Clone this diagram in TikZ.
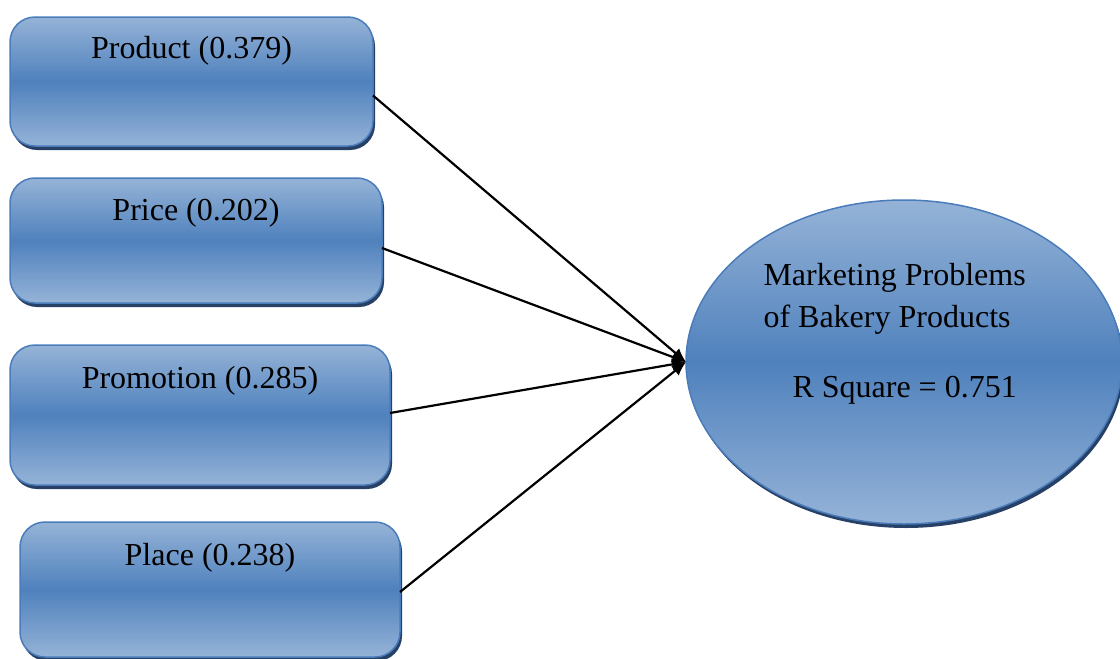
\documentclass[tikz,border=0pt]{standalone}
\usepackage{fontspec}
\setmainfont{Liberation Serif}
\usetikzlibrary{shapes.geometric,shadows,arrows.meta}
\definecolor{lightblue}{RGB}{149,179,215}
\definecolor{midblue}{RGB}{79,129,189}
\definecolor{edgeblue}{RGB}{74,124,187}
\definecolor{shadowblue}{RGB}{38,64,102}

\begin{document}
\begin{tikzpicture}[x=1pt,y=1pt,every node/.style={font=\fontsize{32}{42}\selectfont},
	factor/.style={draw=edgeblue,line width=1.5pt,rounded corners=25pt,outer sep=0pt,
		top color=lightblue,bottom color=lightblue,middle color=midblue,
		drop shadow={shadow xshift=2pt,shadow yshift=-4pt,fill=shadowblue,opacity=1}},
	outcome/.style={ellipse,draw=edgeblue,line width=1.5pt,outer sep=0pt,
		top color=lightblue,bottom color=lightblue,middle color=midblue,
		minimum width=436pt,minimum height=324pt,
		drop shadow={shadow xshift=2pt,shadow yshift=-4pt,fill=shadowblue,opacity=1}},
	link/.style={line width=2.2pt,-{Latex[length=14pt,width=12pt]}}]
			\useasboundingbox (0,0) rectangle (1120,-659);
			\node[factor,minimum width=363pt,minimum height=129pt] (product) at (191.5,-81.5) {};
			\node[factor,minimum width=372pt,minimum height=125pt] (price) at (196,-240.5) {};
			\node[factor,minimum width=380pt,minimum height=140pt] (promotion) at (200,-415) {};
			\node[factor,minimum width=380pt,minimum height=135pt] (place) at (210,-589.5) {};
			\node[outcome] (goal) at (904,-362) {};
			\node[anchor=base] (productlabel) at ([yshift=-41pt]product.north) {Product (0.379)};
			\node[anchor=base] (pricelabel) at ([yshift=-42pt]price.north) {Price (0.202)};
			\node[anchor=base] (promotionlabel) at ([yshift=-43pt]promotion.north) {Promotion (0.285)};
			\node[anchor=base] (placelabel) at ([yshift=-43pt]place.north) {Place (0.238)};
			\node[anchor=base west,align=left] (goallabel) at (760,-327) {Marketing Problems\\of Bakery Products};
			\node[anchor=base west] (rsquare) at (789,-397) {R Square = 0.751};
			\draw[link] ([yshift=-14pt]product.east) -- (goal.west);
			\draw[link] ([yshift=-7.5pt]price.east) -- (goal.west);
			\draw[link] ([yshift=2pt]promotion.east) -- (goal.west);
			\draw[link] ([yshift=-2.5pt]place.east) -- (goal.west);
		\end{tikzpicture}
\end{document}
